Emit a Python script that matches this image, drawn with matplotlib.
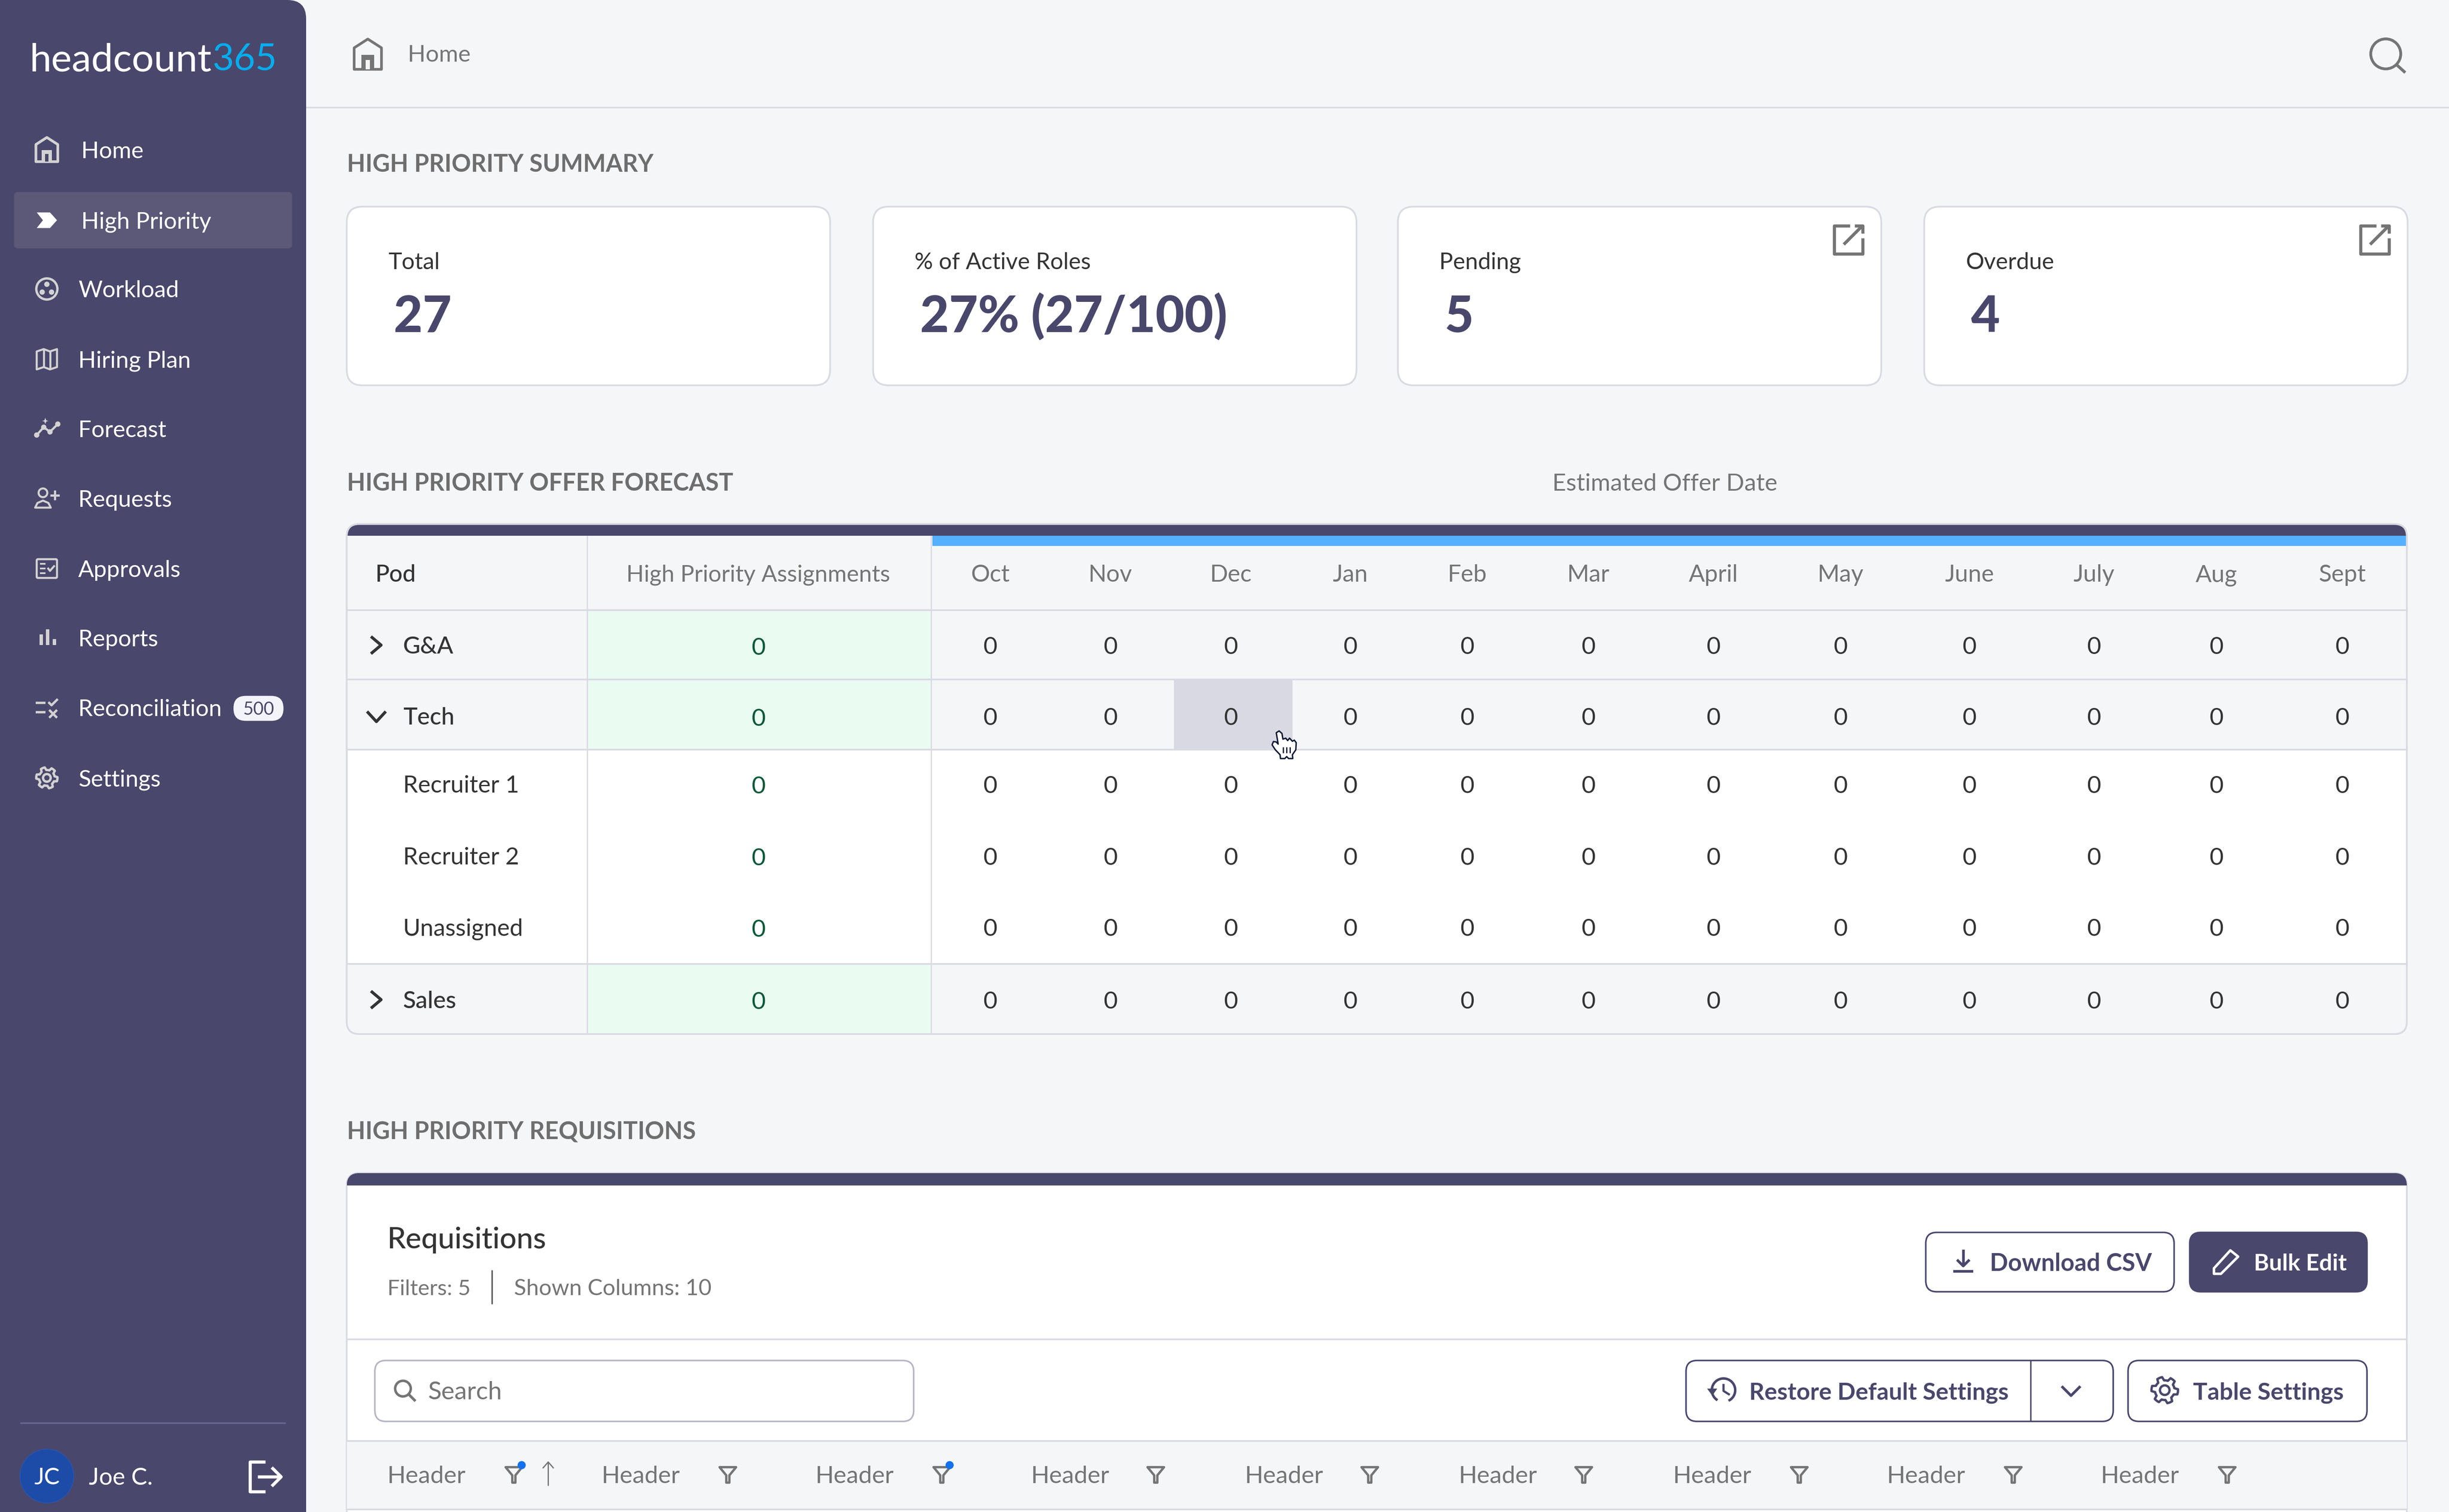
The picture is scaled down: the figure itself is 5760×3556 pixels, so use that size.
"""Dashboard screenshot rebuilt with matplotlib. Axes use screen units of a 1568x968 page."""

import matplotlib

matplotlib.use("Agg")
import matplotlib.pyplot as plt
import numpy as np
from matplotlib.patches import Circle, Ellipse, FancyBboxPatch, Polygon, Rectangle

plt.rcParams["font.family"] = ["Lato", "DejaVu Sans"]

DARK = "#4A476C"
BG = "#F5F6F8"
LINE = "#DADAE3"
GREY = "#757575"
INK = "#343434"
ICON = "#D2D2D2"
PT = 3.6735 / (100 / 72)  # points per screen unit

# values
nav_labels = ["Home", "High Priority", "Workload", "Hiring Plan", "Forecast", "Requests",
              "Approvals", "Reports", "Reconciliation", "Settings"]
reconciliation_badge = 500
card_labels = ["Total", "% of Active Roles", "Pending", "Overdue"]
card_values = ["27", "27% (27/100)", "5", "4"]
months = ["Oct", "Nov", "Dec", "Jan", "Feb", "Mar", "April", "May", "June", "July", "Aug", "Sept"]
pods = ["G&A", "Tech", "Recruiter 1", "Recruiter 2", "Unassigned", "Sales"]
assignments = [0, 0, 0, 0, 0, 0]
forecast_counts = [
    [0, 0, 0, 0, 0, 0, 0, 0, 0, 0, 0, 0],
    [0, 0, 0, 0, 0, 0, 0, 0, 0, 0, 0, 0],
    [0, 0, 0, 0, 0, 0, 0, 0, 0, 0, 0, 0],
    [0, 0, 0, 0, 0, 0, 0, 0, 0, 0, 0, 0],
    [0, 0, 0, 0, 0, 0, 0, 0, 0, 0, 0, 0],
    [0, 0, 0, 0, 0, 0, 0, 0, 0, 0, 0, 0],
]
req_headers = ["Header"] * 9

# layout
nav_y = [96, 141, 185, 230, 274.5, 319, 364, 408.5, 453, 498]
nav_x = [52, 52, 50, 50, 50, 50, 50, 50, 50, 50]
card_x = [222, 559, 895, 1232]
card_w = 309.5
month_x = [634, 711, 788, 864.5, 939.5, 1017, 1097, 1178.5, 1261, 1340.5, 1419, 1499.5]
row_tops = [390, 435, 480, 525.5, 571, 617]
row_bottoms = [435, 480, 525.5, 571, 617, 662]
row_text_y = [413, 458.5, 502, 548, 593.5, 640]
summary_rows = [True, True, False, False, False, True]
header_x = [248, 385, 522, 660, 797, 934, 1071, 1208, 1345]
filter_x = [329, 466, 603, 740, 877, 1014, 1152, 1289, 1426]
active_filters = [True, False, True, False, False, False, False, False, False]

fig = plt.figure(figsize=(57.6, 35.56), dpi=100, facecolor=BG)
ax = fig.add_axes([0, 0, 1, 1])
ax.set_xlim(0, 1568)
ax.set_ylim(968, 0)
ax.axis("off")


def _text(x, y, s, size, color=INK, weight=400, ha="left", z=4):
    # y is the middle of the capitals
    return ax.text(x, y + 0.36 * size, s, fontsize=size * PT, color=color, fontweight=weight,
                   ha=ha, va="baseline", zorder=z)


def _rect(x0, y0, x1, y1, fc, clip=None, z=1):
    p = Rectangle((x0, y0), x1 - x0, y1 - y0, fc=fc, ec="none", zorder=z)
    ax.add_patch(p)
    if clip is not None:
        p.set_clip_path(clip)
    return p


def _round(x0, y0, x1, y1, r, fc="white", ec=LINE, lw=1.1, z=1):
    p = FancyBboxPatch((x0, y0), x1 - x0, y1 - y0, boxstyle=f"round,pad=0,rounding_size={r}",
                       fc=fc, ec=ec, lw=lw * PT, zorder=z)
    ax.add_patch(p)
    return p


def _line(xs, ys, color=LINE, lw=1.1, z=2, cap="butt"):
    ax.plot(xs, ys, color=color, lw=lw * PT, zorder=z, solid_capstyle=cap, solid_joinstyle="round")


def _poly(pts, fc="none", ec="none", lw=1.0, z=6):
    ax.add_patch(Polygon(pts, closed=True, fc=fc, ec=ec, lw=lw * PT, zorder=z, joinstyle="round"))


def _circle(x, y, r, fc="none", ec="none", lw=1.0, z=6):
    ax.add_patch(Circle((x, y), r, fc=fc, ec=ec, lw=lw * PT, zorder=z))


def _gear(x, y, r, color, lw=1.5, z=6):
    ang = np.linspace(0, 2 * np.pi, 48, endpoint=False)
    rad = np.where((np.arange(48) % 8) < 4, r, r * 0.74)
    _poly(np.c_[x + rad * np.sin(ang + 0.2), y + rad * np.cos(ang + 0.2)], ec=color, lw=lw, z=z)
    _circle(x, y, r * 0.36, ec=color, lw=lw, z=z)


def _home_icon(x, y, color, s=1.0, lw=1.7):
    _poly([(x - 7 * s, y - 3.5 * s), (x, y - 8 * s), (x + 7 * s, y - 3.5 * s), (x + 7 * s, y + 7.5 * s),
           (x - 7 * s, y + 7.5 * s)], ec=color, lw=lw)
    _rect(x - 3.2 * s, y + 0.2 * s, x + 3.2 * s, y + 7.5 * s, color, z=6)
    _rect(x - 1.1 * s, y + 2.6 * s, x + 1.1 * s, y + 7.5 * s, DARK if color == ICON else BG, z=7)


def _filter_icon(x, y):
    _poly([(x - 5.3, y - 4.7), (x + 5.3, y - 4.7), (x + 1, y + 0.5), (x + 1, y + 5.2),
           (x - 1, y + 5.2), (x - 1, y + 0.5)], ec=GREY, lw=1.5)


def _link_icon(x, y):
    _line([x + 1, x - 9, x - 9, x + 9, x + 9], [y - 9, y - 9, y + 9, y + 9, y - 1], GREY, 2.0, 6)
    _line([x + 4, x + 9, x + 9], [y - 9, y - 9, y - 4], GREY, 2.0, 6)
    _line([x - 3, x + 8.5], [y + 3, y - 8.5], GREY, 2.0, 6)


def _nav_icons():
    y = nav_y
    x = 30
    _home_icon(x, y[0], ICON)
    _poly([(x - 6.5, y[1] - 5), (x + 2, y[1] - 5), (x + 6.5, y[1]), (x + 2, y[1] + 5),
           (x - 6.5, y[1] + 5), (x - 2.5, y[1])], fc="white")
    ax.add_patch(Ellipse((x, y[2]), 13.5, 13.5, fc="none", ec=ICON, lw=1.5 * PT, zorder=6))
    for dx, dy in [(0, -3), (-3, 2), (3, 2)]:
        _circle(x + dx, y[2] + dy, 1.7, fc=ICON)
    m = y[3]
    _poly([(x - 6.5, m - 5), (x - 2, m - 6.5), (x + 2, m - 5), (x + 6.5, m - 6.5), (x + 6.5, m + 5),
           (x + 2, m + 6.5), (x - 2, m + 5), (x - 6.5, m + 6.5)], ec=ICON, lw=1.3)
    _line([x - 2, x - 2], [m - 6.5, m + 5], ICON, 1.3, 6)
    _line([x + 2, x + 2], [m - 5, m + 6.5], ICON, 1.3, 6)
    m = y[4]
    fx, fy = [x - 6.5, x - 2, x + 2, x + 7], [m + 4, m - 1, m + 2, m - 3]
    _line(fx, fy, ICON, 1.4, 6)
    for a, b in zip(fx, fy):
        _circle(a, b, 1.7, fc=ICON)
    _poly([(x - 1, m - 7), (x - 0.4, m - 5.4), (x + 1, m - 5), (x - 0.4, m - 4.6), (x - 1, m - 3),
           (x - 1.6, m - 4.6), (x - 3, m - 5), (x - 1.6, m - 5.4)], fc=ICON)
    m = y[5]
    _circle(x - 2.5, m - 3.5, 2.8, ec=ICON, lw=1.3)
    _poly([(x - 7.5, m + 6), (x - 6, m + 3), (x - 2.5, m + 1.5), (x + 1, m + 3), (x + 2.5, m + 6)], ec=ICON, lw=1.3)
    _line([x + 2, x + 8], [m - 2, m - 2], ICON, 1.4, 6)
    _line([x + 5, x + 5], [m - 5, m + 1], ICON, 1.4, 6)
    m = y[6]
    _round(x - 6.5, m - 6, x + 6.5, m + 6, 0.8, fc="none", ec=ICON, lw=1.3, z=6)
    for dy in [-3, 0, 3]:
        _line([x - 4.5, x - 1], [m + dy, m + dy], ICON, 1.1, 6)
    _line([x + 0.5, x + 2, x + 5], [m - 0.5, m + 1.5, m - 2], ICON, 1.3, 6)
    m = y[7]
    for dx, h in [(-3.6, 6.8), (0.6, 10), (4.8, 3.8)]:
        _rect(x + dx - 1.1, m + 4.5 - h, x + dx + 1.1, m + 4.5, ICON, z=6)
    m = y[8]
    _line([x - 7, x - 1], [m - 3, m - 3], ICON, 1.5, 6)
    _line([x - 7, x - 1], [m + 3, m + 3], ICON, 1.5, 6)
    _line([x + 1, x + 3, x + 7], [m - 3.5, m - 1.5, m - 5.5], ICON, 1.5, 6)
    _line([x + 1.5, x + 6.5], [m + 1.5, m + 6.5], ICON, 1.5, 6)
    _line([x + 1.5, x + 6.5], [m + 6.5, m + 1.5], ICON, 1.5, 6)
    _gear(x, y[9], 6.8, ICON)


def _sidebar():
    _round(-30, 0, 196, 1000, 12, fc=DARK, ec="none", lw=0, z=3)
    t = _text(19, 36.5, "headcount", 25, "white", z=5)
    ax.figure.canvas.draw()
    bb = t.get_window_extent().transformed(ax.transData.inverted())
    _text(bb.x1 + 0.2, 36.5, "365", 23.8, "#00AEEF", z=5)
    _round(9, 123, 187, 159, 2.5, fc="#5B5878", ec="none", lw=0, z=4)
    for label, x, y in zip(nav_labels, nav_x, nav_y):
        _text(x, y, label, 14.9, "white", z=5)
    _round(149.5, 445.5, 181.5, 461.5, 7.8, fc="#F3F3FA", ec="none", lw=0, z=5)
    _text(165.5, 453.5, str(reconciliation_badge), 11.5, DARK, ha="center", z=6)
    _nav_icons()
    _line([13, 183], [911, 911], "#676593", 1.0, 5)
    _circle(30, 945, 17.2, fc="#1D4BA8", ec="#2A55AE", lw=0.5)
    _text(30, 945, "JC", 15, "white", ha="center", z=7)
    _text(57, 945, "Joe C.", 15.3, "white", z=6)
    _line([170, 160, 160, 170], [936, 936, 955, 955], "white", 2.0, 6)
    _line([165, 179], [945.5, 945.5], "white", 2.0, 6)
    _line([174, 180, 174], [939.5, 945.5, 951.5], "white", 2.0, 6)


def _top_bar():
    _line([196, 1568], [69, 69], LINE, 1.0)
    _home_icon(235.5, 35, GREY, 1.25, 1.7)
    _text(261, 34, "Home", 15, GREY)
    _circle(1527.5, 34.5, 9.6, ec=GREY, lw=1.8)
    _line([1534.5, 1540], [41.5, 46.5], GREY, 1.9, 6)


def _cards():
    _text(222, 104.5, "HIGH PRIORITY SUMMARY", 15.4, "#6E6E6E", 700)
    for i, x in enumerate(card_x):
        _round(x, 132.3, x + card_w, 246.7, 10)
        _text(x + 26.5, 167, card_labels[i], 14.7, INK)
        _text(x + 30, 201, card_values[i], 32, DARK, 900)
        if i >= 2:
            _link_icon(x + card_w - 21, 153.5)


def _forecast_table():
    _text(222, 308.5, "HIGH PRIORITY OFFER FORECAST", 15.4, "#6E6E6E", 700)
    _text(1066, 308.5, "Estimated Offer Date", 15.3, GREY, ha="center")
    base = _round(222, 335.5, 1541, 662, 8)
    _rect(222, 343, 1541, 390, BG, base)
    for j, (top, bottom, summary) in enumerate(zip(row_tops, row_bottoms, summary_rows)):
        if summary:
            _rect(222, top, 1541, bottom, BG, base)
            _rect(376.5, top, 596, bottom, "#EAFBF2", base)
    _rect(751.5, 435, 827.5, 480, "#D8D9E2", base, z=1.5)
    _rect(222, 335.5, 1541, 343, DARK, base, z=3)
    _rect(597, 343, 1541, 349.5, "#55B0FF", base, z=3)
    for y in [390.5, 435, 480, 617]:
        _line([222, 1541], [y, y])
    for x in [376, 596.3]:
        _line([x, x], [343, 662], LINE, 0.8)
    _round(222, 335.5, 1541, 662, 8, fc="none", z=3)
    _text(240, 367, "Pod", 15, INK, 500, z=4)
    _text(485.5, 367, "High Priority Assignments", 14.8, GREY, ha="center", z=4)
    for x, month in zip(month_x, months):
        _text(x, 367, month, 15.2, GREY, ha="center", z=4)
    for j, pod in enumerate(pods):
        y = row_text_y[j]
        _text(258, y, pod, 15.2, INK, 500 if summary_rows[j] else 400, z=4)
        _text(485.5, y + 0.5, str(assignments[j]), 15.5, "#0B5A3A", ha="center", z=4)
        for x, value in zip(month_x, forecast_counts[j]):
            _text(x, y, str(value), 15.5, INK, ha="center", z=4)
    for y in [row_text_y[0], row_text_y[5]]:
        _line([237.5, 244, 237.5], [y - 5.5, y, y + 5.5], INK, 1.9, 6)
    y = row_text_y[1]
    _line([235, 241, 247], [y - 3, y + 3.5, y - 3], INK, 1.9, 6)


def _cursor():
    # pixel outline of the hand pointer, mapped from its crop to page units
    pts = [(900, 670), (915, 657), (930, 675), (935, 715), (950, 708), (960, 725), (970, 708), (985, 730),
           (995, 722), (1005, 740), (1003, 790), (985, 825), (987, 852), (965, 852), (955, 838), (945, 852),
           (922, 852), (920, 825), (895, 790), (878, 755), (885, 732), (900, 735), (910, 750)]
    conv = lambda a, b: ((2600 + a / 2.24) / 3.6735, (1500 + b / 3) / 3.6735)
    _poly([conv(a, b) for a, b in pts], fc="white", ec="#101A33", lw=0.9, z=8)
    for a in [936, 955, 973]:
        p, q = conv(a, 770), conv(a, 812)
        _line([p[0], q[0]], [p[1], q[1]], "#101A33", 0.8, 9)


def _history_icon(x, y):
    ang = np.linspace(-2.6, 2.7, 40)
    _line(x + 7.5 * np.sin(ang), y - 7.5 * np.cos(ang), DARK, 1.6, 6)
    _line([x, x, x + 4], [y - 4, y + 0.5, y + 3], DARK, 1.4, 6)
    _poly([(x - 10.5, y - 1), (x - 4, y - 1), (x - 7.2, y + 3.5)], fc=DARK)


def _requisitions():
    _text(222, 723.5, "HIGH PRIORITY REQUISITIONS", 15.4, "#6E6E6E", 700)
    base = _round(222, 751, 1541, 1000, 8)
    _rect(222, 751, 1541, 759, DARK, base, z=3)
    _rect(222, 922, 1541, 966, BG, base)
    _line([222, 1541], [857.5, 857.5])
    _line([222, 1541], [922.5, 922.5])
    _line([222, 1541], [966.5, 966.5])
    _text(248, 792.5, "Requisitions", 19, INK, 500)
    _text(248, 824, "Filters: 5", 14, GREY)
    _line([315, 315], [813, 835], "#555555", 0.9)
    _text(329, 824, "Shown Columns: 10", 14.4, GREY)

    _round(1233, 789, 1392, 827, 7, ec=DARK, lw=1.0)
    _text(1274, 808, "Download CSV", 15.4, DARK, 700)
    _line([1257, 1257], [800, 810], DARK, 1.7, 6)
    _line([1253, 1257, 1261], [806.5, 810.5, 806.5], DARK, 1.7, 6)
    _line([1250.5, 1263.5], [814, 814], DARK, 1.7, 6)
    _round(1402, 789, 1515.5, 827, 7, fc=DARK, ec=DARK, lw=1.0)
    _text(1443, 808, "Bulk Edit", 14.8, "white", 700, z=6)
    _poly([(1417.5, 812), (1428, 800.5), (1433, 804.5), (1422, 815.5), (1417.5, 815.5)], ec="white", lw=1.6)

    _round(240, 871, 585, 910, 7, ec="#B5B5C6", lw=1.0)
    _circle(258, 889, 5, ec=GREY, lw=1.6)
    _line([261.5, 266], [892.5, 897], GREY, 1.7, 6)
    _text(274, 890, "Search", 16, GREY)

    _round(1079.5, 871, 1353, 910, 7, ec=DARK, lw=1.0)
    _line([1300, 1300], [871, 910], DARK, 0.9)
    _history_icon(1103.5, 890)
    _text(1120, 890.5, "Restore Default Settings", 15.2, DARK, 700)
    _line([1320, 1326, 1332], [887.5, 893.5, 887.5], DARK, 1.7, 6)
    _round(1362.5, 871, 1515.5, 910, 7, ec=DARK, lw=1.0)
    _gear(1386, 890, 8.5, DARK, 1.5)
    _text(1404, 890.5, "Table Settings", 15.3, DARK, 700)

    for tx, fx, label, active in zip(header_x, filter_x, req_headers, active_filters):
        _text(tx, 944, label, 15.5, GREY, z=4)
        _filter_icon(fx, 944)
        if active:
            _circle(fx + 5, 938, 2.6, fc="#1271EE", z=7)
    _line([351, 351], [936, 951], GREY, 0.8, 6)
    _line([347.5, 351, 354.5], [940, 936, 940], GREY, 0.8, 6)


_sidebar()
_top_bar()
_cards()
_forecast_table()
_requisitions()
_cursor()

fig.savefig("out.png", dpi=100, facecolor=BG)
